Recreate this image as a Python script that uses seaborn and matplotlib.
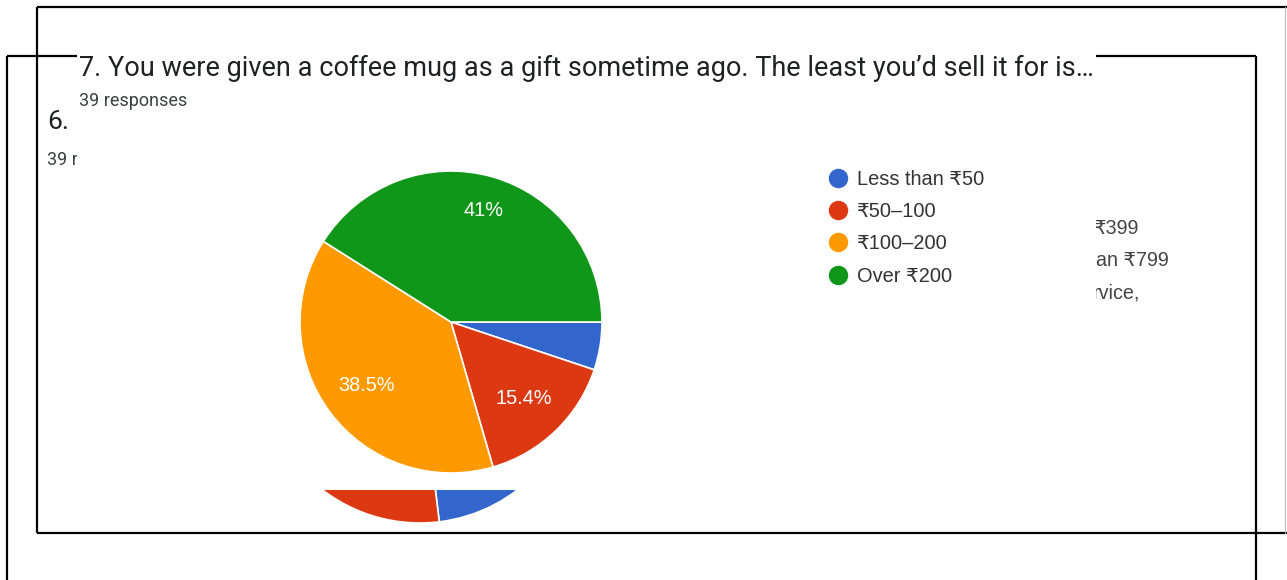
import matplotlib
matplotlib.use("Agg")
import matplotlib.pyplot as plt
from matplotlib.lines import Line2D
from matplotlib.patches import Rectangle
import seaborn as sns

# Question 7 responses (39 in total)
categories = ["Less than ₹50", "₹50–100", "₹100–200", "Over ₹200"]
counts = [2, 6, 15, 16]
colors = ["#3366CC", "#DC3912", "#FF9900", "#109618"]
title = "7. You were given a coffee mug as a gift sometime ago. The least you’d sell it for is…"
subtitle = "39 responses"

# Question 6 card lying underneath (only its lower edge and a few words show)
q6_counts = [9, 12, 11, 7]
q6_number = "6."
q6_subtitle = "39 responses"
q6_label_tails = ["₹399", "an ₹799", "rvice,"]

sns.set_theme(style="white")
plt.rcParams["font.family"] = ["Liberation Sans", "DejaVu Sans"]

W, H = 1287, 580
fig = plt.figure(figsize=(W / 100, H / 100), dpi=100)
fig.patch.set_facecolor("white")


def px_axes(x0, y0, x1, y1, z):
    ax = fig.add_axes([x0 / W, 1 - y1 / H, (x1 - x0) / W, (y1 - y0) / H])
    ax.set_zorder(z)
    ax.patch.set_alpha(0)
    ax.set_axis_off()
    return ax


# background layer: the two frames and the lower card's text
bg = px_axes(0, 0, W, H, 0)
bg.set_xlim(0, W)
bg.set_ylim(H, 0)
lk = dict(color="black", lw=1.6, solid_capstyle="butt")
bg.plot([37, W], [7, 7], **lk)
bg.plot([37, 37], [7, 533], **lk)
bg.plot([37, W], [533, 533], **lk)
bg.plot([1285, 1285], [7, 533], color="#bbbbbb", lw=0.8)
bg.plot([7, 1256], [56, 56], **lk)
bg.plot([7, 7], [56, H], **lk)
bg.plot([1256, 1256], [56, H], **lk)
bg.text(47, 122, q6_number, fontsize=19, family=["Roboto", "DejaVu Sans"],
        color="#202124", va="center", ha="left")
bg.text(47, 160, q6_subtitle, fontsize=13, family=["Roboto", "DejaVu Sans"],
        color="#3c4043", va="center", ha="left")
for t, x, y in zip(q6_label_tails, [1093, 1096, 1093], [228, 260, 293]):
    bg.text(x, y, t, fontsize=14.2, color="#444444", va="center", ha="left")

# lower card's pie
q6ax = px_axes(260, 203, 580, 523, 1)
q6ax.pie(q6_counts, colors=colors, startangle=0, counterclock=False,
         wedgeprops=dict(edgecolor="white", linewidth=1.2))
q6ax.set_xlim(-1, 1)
q6ax.set_ylim(-1, 1)
q6ax.set_aspect("equal")

# upper card
fg = px_axes(0, 0, W, H, 2)
fg.set_xlim(0, W)
fg.set_ylim(H, 0)
fg.add_patch(Rectangle((77, 44), 1096 - 77, 490 - 44, facecolor="white",
                       edgecolor="none"))
fg.text(79, 68, title, fontsize=19.5, family=["Roboto", "DejaVu Sans"],
        color="#202124", va="center", ha="left")
fg.text(79, 101, subtitle, fontsize=13, family=["Roboto", "DejaVu Sans"],
        color="#3c4043", va="center", ha="left")

pax = px_axes(300, 171, 602, 473, 3)
wedges, texts, autotexts = pax.pie(
    counts, colors=colors, startangle=0, counterclock=False,
    autopct=lambda p: "" if p < 6 else f"{p:.1f}%".replace(".0%", "%"),
    pctdistance=0.7,
    wedgeprops=dict(edgecolor="white", linewidth=1.2),
    textprops=dict(color="white", fontsize=14.3),
)
pax.set_xlim(-1, 1)
pax.set_ylim(-1, 1)
pax.set_aspect("equal")
# the largest slice carries its label a little further out
x, y = autotexts[3].get_position()
autotexts[3].set_position((x * 1.1, y * 1.1))

handles = [Line2D([], [], marker="o", linestyle="none", markersize=13,
                  markerfacecolor=c, markeredgecolor=c) for c in colors]
fig.legend(handles, categories, loc="upper left",
           bbox_to_anchor=(828 / W, 1 - 170 / H), frameon=False,
           fontsize=14.4, handlelength=1.0, handletextpad=0.45,
           labelspacing=0.66, borderpad=0, borderaxespad=0,
           labelcolor="#333333")

fig.savefig("out.png", dpi=100, facecolor="white")
